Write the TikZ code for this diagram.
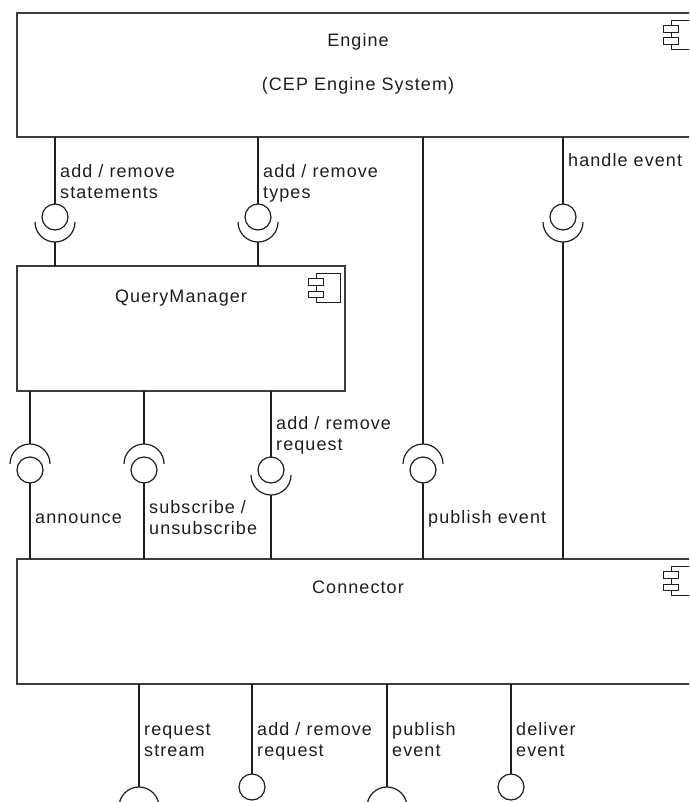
\documentclass[tikz,border=0pt]{standalone}
\usepackage{fontspec}
\setmainfont{Liberation Sans}[LetterSpace=6]
\usetikzlibrary{calc}
\definecolor{frame}{HTML}{3C3C3C}
\definecolor{ink}{HTML}{1E1E1E}
\begin{document}
\begin{tikzpicture}[x=1pt,y=-1pt,
  comp/.style={draw=frame, line width=2pt, rectangle, anchor=north west,
    inner sep=0, outer sep=0, fill=white},
  ball/.style={circle, draw=ink, line width=1.2pt, minimum size=26pt,
    inner sep=0, outer sep=0, fill=white},
  socket/.style={draw=ink, line width=1.2pt},
  wire/.style={draw=ink, line width=1.1pt},
  lbl/.style={anchor=base west, inner sep=0, align=left,
    font=\fontsize{18}{21}\selectfont, text=ink},
  ttl/.style={anchor=base, inner sep=0,
    font=\fontsize{18}{21}\selectfont, text=ink},
  compicon/.pic={
    \draw[draw=ink, line width=1pt] (-29,7.5) rectangle (-5,36.5);
    \draw[draw=ink, line width=1pt, fill=white] (-36.5,12.5) rectangle (-21.5,19.2);
    \draw[draw=ink, line width=1pt, fill=white] (-36.5,25) rectangle (-21.5,31.7);
  }]
\useasboundingbox (0,0) rectangle (689,802);
\clip (0,0) rectangle (689,802);

% components
\node[comp, minimum width=683pt, minimum height=124pt] (engine) at (17,13) {};
\node[comp, minimum width=328pt, minimum height=125pt] (qm) at (17,266) {};
\node[comp, minimum width=683pt, minimum height=125pt] (conn) at (17,559) {};
\pic at (engine.north east) {compicon};
\pic at (qm.north east) {compicon};
\pic at (conn.north east) {compicon};

\node[ttl] (tEngine) at (358,47) {Engine};
\node[ttl] (tCep) at (358,91) {(CEP Engine System)};
\node[ttl] (tQm) at (181,302) {QueryManager};
\node[ttl] (tConn) at (358,593) {Connector};

% Engine <-> QueryManager / Connector (ball above, socket below)
\foreach \n/\x/\t in {Stmt/55/qm, Types/258/qm, Handle/563/conn} {
  \node[ball] (b\n) at (\x,217) {};
  \coordinate (s\n) at (\x,222);
  \draw[socket] ($(s\n)+(-20,0)$) arc[start angle=180, end angle=0, radius=20];
  \draw[wire] (engine.south -| b\n) -- (b\n.north);
  \draw[wire] ($(s\n)+(0,20)$) -- (s\n |- \t.north);
}

% socket above, ball below
\foreach \n/\x/\f in {Ann/30/qm, Sub/144/qm, Pub/423/engine} {
  \node[ball] (b\n) at (\x,470) {};
  \coordinate (s\n) at (\x,464);
  \draw[socket] ($(s\n)+(-20,0)$) arc[start angle=180, end angle=360, radius=20];
  \draw[wire] (\f.south -| s\n) -- ($(s\n)+(0,-20)$);
  \draw[wire] (b\n.south) -- (b\n |- conn.north);
}

% QueryManager add / remove request (ball above, socket below)
\node[ball] (bReq) at (271,470) {};
\coordinate (sReq) at (271,475);
\draw[socket] ($(sReq)+(-20,0)$) arc[start angle=180, end angle=0, radius=20];
\draw[wire] (qm.south -| bReq) -- (bReq.north);
\draw[wire] ($(sReq)+(0,20)$) -- (sReq |- conn.north);

% Connector outward interfaces
\foreach \n/\x in {Stream/139, OutPub/387} {
  \coordinate (s\n) at (\x,807);
  \draw[socket] ($(s\n)+(-20,0)$) arc[start angle=180, end angle=360, radius=20];
  \draw[wire] (conn.south -| s\n) -- ($(s\n)+(0,-20)$);
}
\foreach \n/\x in {OutReq/252, Deliver/511} {
  \node[ball] (b\n) at (\x,787) {};
  \draw[wire] (conn.south -| b\n) -- (b\n.north);
}

% interface labels (base anchor sits on the last line)
\node[lbl] (lStmt) at (60,199) {add / remove\\statements};
\node[lbl] (lTypes) at (263,199) {add / remove\\types};
\node[lbl] (lHandle) at (568,167) {handle event};
\node[lbl] (lAnn) at (35,523) {announce};
\node[lbl] (lSub) at (149,534) {subscribe /\\unsubscribe};
\node[lbl] (lReq) at (276,450) {add / remove\\request};
\node[lbl] (lPub) at (428,523) {publish event};
\node[lbl] (lStream) at (144,756) {request\\stream};
\node[lbl] (lOutReq) at (257,756) {add / remove\\request};
\node[lbl] (lOutPub) at (392,756) {publish\\event};
\node[lbl] (lDeliver) at (516,756) {deliver\\event};
\end{tikzpicture}
\end{document}
